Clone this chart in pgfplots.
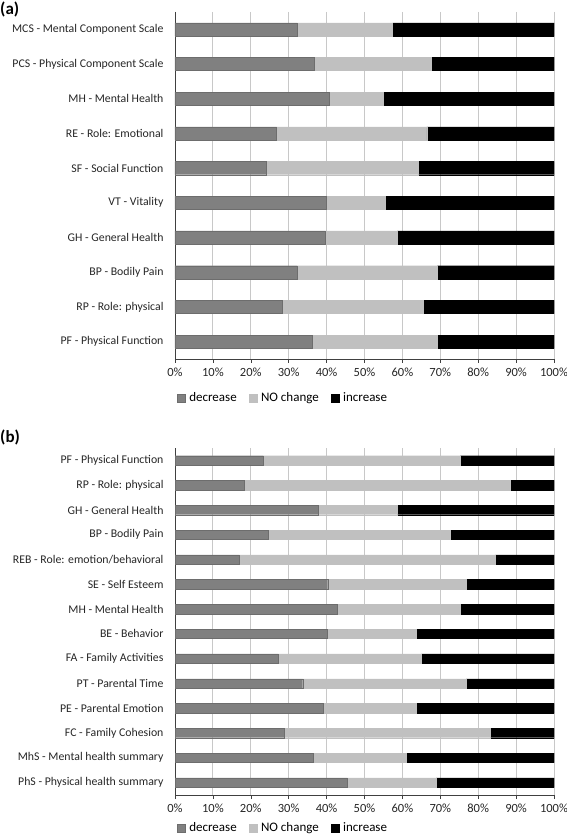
\documentclass[border=0pt]{standalone}
\usepackage{fontspec}
\setmainfont{Carlito}
\usepackage{pgfplots}
\usepackage{pgfplotstable}
\pgfplotsset{compat=1.18}
\definecolor{dec}{HTML}{808080}
\definecolor{nch}{HTML}{C0C0C0}
\definecolor{inc}{HTML}{000000}
\definecolor{grid}{HTML}{C8C8C8}

\pgfplotstableread{
idx dec nc inc
0 32.2 25.2 42.6
1 36.7 31.0 32.3
2 40.8 14.1 45.1
3 26.8 39.6 33.6
4 24.0 40.2 35.8
5 40.0 15.4 44.6
6 39.6 19.0 41.4
7 32.2 37.0 30.8
8 28.2 37.3 34.5
9 36.3 32.9 30.8
}\tableA

\pgfplotstableread{
idx dec nc inc
0 23.3 52.0 24.7
1 18.3 70.1 11.6
2 37.7 20.9 41.4
3 24.7 48.0 27.3
4 17.0 67.5 15.5
5 40.3 36.5 23.2
6 42.9 32.4 24.7
7 40.2 23.5 36.3
8 27.3 37.7 35.0
9 33.7 43.1 23.2
10 39.0 24.7 36.3
11 28.7 54.5 16.8
12 36.5 24.5 39.0
13 45.4 23.5 31.1
}\tableB

\pgfplotsset{
  panel/.style={
    xbar stacked,
    scale only axis,
    width=379pt, height=347pt,
    anchor=south west,
    xmin=0, xmax=100,
    y dir=reverse,
    axis x line*=bottom,
    axis y line*=left,
    axis line style={draw=black!75, line width=0.6pt},
    xtick={0,10,...,100},
    xticklabels={0\%,10\%,20\%,30\%,40\%,50\%,60\%,70\%,80\%,90\%,100\%},
    xmajorgrids,
    major grid style={draw=grid, line width=0.9pt},
    tick align=outside,
    major tick length=4pt,
    minor tick length=4pt,
    xtick style={draw=black!75, line width=0.6pt},
    ytick style={draw=none},
    minor tick style={draw=black!75, line width=0.6pt},
    yticklabel style={font=\fontsize{11.8}{14}\selectfont, text=black!85, xshift=-4pt},
    xticklabel style={font=\fontsize{12.5}{14}\selectfont, text=black!85, yshift=-1pt},
    ytick=data,
    legend columns=3,
    legend cell align=left,
    legend style={draw=none, fill=none, font=\fontsize{13}{15}\selectfont,
      /tikz/every even column/.append style={column sep=10pt}},
    legend image code/.code={\fill[##1] (0pt,-4pt) rectangle (8pt,4pt); \path (10pt,0pt);},
  },
  decstyle/.style={fill=dec, draw=dec!85!black, line width=0.3pt},
  ncstyle/.style={fill=nch, draw=nch, line width=0.3pt},
  incstyle/.style={fill=inc, draw=inc, line width=0.3pt},
}

\begin{document}
\begin{tikzpicture}
\useasboundingbox (0pt,0pt) rectangle (567pt,835pt);

\node[anchor=west, font=\fontsize{17}{19}\selectfont\bfseries, inner sep=0pt] at (0pt,826pt) {(a)};
\begin{axis}[panel, at={(175pt,476pt)},
  ymin=-0.5, ymax=9.5,
  bar width=0.38,
  minor ytick={-0.5,0.5,...,9.5},
  yticklabels={MCS - Mental Component Scale, PCS - Physical Component Scale, MH - Mental Health, RE - Role: Emotional, SF - Social Function, VT - Vitality, GH - General Health, BP - Bodily Pain, RP - Role: physical, PF - Physical Function},
  legend style={at={(0.285,-0.112)}, anchor=center},
]
\addplot[decstyle] table[x=dec, y=idx] {\tableA};
\addplot[ncstyle] table[x=nc, y=idx] {\tableA};
\addplot[incstyle] table[x=inc, y=idx] {\tableA};
\legend{decrease, NO change, increase}
\end{axis}

\node[anchor=west, font=\fontsize{17}{19}\selectfont\bfseries, inner sep=0pt] at (0pt,398pt) {(b)};
\begin{axis}[panel, at={(175pt,40pt)},
  ymin=-0.5, ymax=13.5,
  bar width=0.38,
  minor ytick={-0.5,0.5,...,13.5},
  yticklabels={PF - Physical Function, RP - Role: physical, GH - General Health, BP - Bodily Pain, REB - Role: emotion/behavioral, SE - Self Esteem, MH - Mental Health, BE - Behavior, FA - Family Activities, PT - Parental Time, PE - Parental Emotion, FC - Family Cohesion, MhS - Mental health summary, PhS - Physical health summary},
  legend style={at={(0.285,-0.095)}, anchor=center},
]
\addplot[decstyle] table[x=dec, y=idx] {\tableB};
\addplot[ncstyle] table[x=nc, y=idx] {\tableB};
\addplot[incstyle] table[x=inc, y=idx] {\tableB};
\legend{decrease, NO change, increase}
\end{axis}
\end{tikzpicture}
\end{document}
